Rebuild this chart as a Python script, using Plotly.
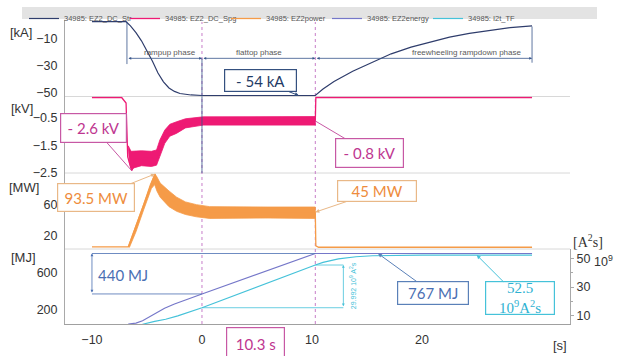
import plotly.graph_objects as go

# ---------------- data ----------------
T_START, T_END = -10.0, 30.0
T_RAMP_START = -6.82          # start of current ramp-up [s]
T_FT_END = 10.3               # end of flattop [s]

# coil current EZ2_DC_Str [kA]
cur_t = [-10.0, -6.9, -6.5, -6.0, -5.5, -5.0, -4.5, -4.0, -3.5, -3.0, -2.5, -2.0, -1.0, 0.0,
         10.3, 11.0, 12.0, 13.7, 15.0, 17.2, 19.0, 20.8, 22.5, 24.3, 26.0, 28.0, 30.0]
cur_kA = [0, 0, -3, -8, -14, -21, -29, -37.5, -44, -48.5, -51, -52.5, -53.6, -54,
          -54, -49.3, -43.8, -36.2, -31.5, -23.5, -18.6, -14.6, -11.3, -8.5, -6.4, -4.4, -3.0]
I_FLATTOP = -54

# coil voltage EZ2_DC_Spg [kV]: mean trace and noise envelope
spg_t = [-10.0, -7.3, -6.9, -6.75, -6.39, -6.1, -5.0, -4.13, -3.8, -3.38, -2.92, -2.32, -1.5, 0.1,
         10.3, 10.35, 30.0]
spg_kV = [0.05, 0.05, -0.15, -2.1, -2.6, -2.2, -2.15, -2.12, -1.8, -1.37, -1.12, -1.04, -0.9, -0.8,
          -0.8, 0.05, 0.05]
spg_hi_t = [-6.7, -6.45, -5.5, -4.6, -4.13, -3.83, -3.38, -2.92, -2.32, -1.5, 0.1, 5.0, 10.3]
spg_hi = [-1.7, -1.9, -1.88, -1.9, -1.85, -1.49, -1.13, -0.92, -0.83, -0.72, -0.65, -0.64, -0.64]
spg_lo_t = [10.3, 5.0, 0.1, -1.5, -2.32, -2.92, -3.38, -3.83, -4.13, -4.6, -5.5, -6.2, -6.39, -6.6, -6.7]
spg_lo = [-0.95, -0.95, -0.95, -1.05, -1.25, -1.35, -1.61, -2.09, -2.4, -2.45, -2.42, -2.5, -2.6, -2.3, -1.7]
V_MIN, V_FLATTOP = -2.6, -0.8

# power EZ2power [MW]: mean trace and noise envelope
pwr_t = [-10.0, -6.7, -4.28, -3.8, -3.0, -2.3, -1.5, -0.5, 0.7, 10.3, 10.35, 10.6, 30.0]
pwr_MW = [0.8, 0.8, 93.5, 73, 62, 55, 50, 47, 45, 45, 2, 0.3, 0.3]
pwr_hi_t = [-6.7, -6.0, -5.3, -4.7, -4.4, -4.28, -4.1, -3.8, -3.0, -2.3, -1.5, -0.5, 0.7, 3.0, 6.0, 10.3]
pwr_hi = [1, 27, 55, 80, 91, 93.5, 90, 82, 72, 64, 58, 54.5, 52, 51.5, 51.5, 51.5]
pwr_lo_t = [10.3, 6.0, 3.0, 0.7, -0.5, -1.5, -2.3, -3.0, -3.8, -4.1, -4.3, -4.6, -5.3, -6.0, -6.6]
pwr_lo = [37, 37.5, 37.5, 37, 39, 42, 46, 52, 64, 72, 80, 75, 48, 20, 0]
P_PEAK, P_FLATTOP = 93.5, 45

# energy EZ2energy [MJ]
en_t = [-6.7, -6.0, -5.4, -4.8, -4.3, -3.4, -2.5, -1.1, 0.0, 10.3, 30.0]
en_MJ = [0, 10, 35, 75, 112, 172, 218, 280, 327, 767, 767]
E_FT_START, E_END = 327, 767

# I2t_TF [10^9 A^2 s]
i2t_t = [-6.0, -5.3, -4.3, -3.3, -2.2, -1.1, 0.0, 10.3, 11.0, 12.4, 14.0, 15.5, 17.5, 20.0, 30.0]
i2t_v = [2.0, 4.1, 5.9, 7.4, 9.8, 12.7, 15.5, 45.492, 47.3, 49.8, 51.3, 52.0, 52.35, 52.5, 52.5]
I2T_FT_START, I2T_FT_END, I2T_END = 15.5, 45.492, 52.5

legend_names = ["34985: EZ2_DC_Str", "34985: EZ2_DC_Spg", "34985: EZ2power",
                "34985: EZ2energy", "34985: I2t_TF"]

# ---------------- styling ----------------
C_CUR = "#2f3d6c"
C_SPG = "#ee1a74"
C_SPG_TXT = "#be3690"
C_PWR = "#f59b48"
C_PWR_BOX = "#e9b887"
C_EN = "#7577c9"
C_EN_TXT = "#4a6fb3"
C_I2T = "#45c2d9"
C_I2T_TXT = "#2fb2d2"
C_AX = "#a9a9a9"
C_SEP = "#d8d8d8"
C_DOT = "#c77ec9"
C_PHASE = "#36548a"

SANS = "Liberation Sans, Arial, sans-serif"
BOX = "Lato, Carlito, sans-serif"
SERIF = "Liberation Serif, serif"

W, H = 617, 356
ML, MR, MT, MB = 65, 47, 20, 32
PW, PH = W - ML - MR, H - MT - MB


def px_x(px):
    return (px - ML) / PW


def px_y(py):
    return (H - MB - py) / PH


# panel boundaries (pixels from top)
B1, B2, B3 = 96.5, 173, 249
dom1 = [px_y(B1), 1.0]
dom2 = [px_y(B2), px_y(B1)]
dom3 = [px_y(B3), px_y(B2)]
dom4 = [0.0, px_y(B3)]

fig = go.Figure()

# current
fig.add_trace(go.Scatter(x=cur_t, y=cur_kA, mode="lines", yaxis="y", name=legend_names[0],
                         line=dict(color=C_CUR, width=1.2)))
# voltage
fig.add_trace(go.Scatter(x=spg_hi_t + spg_lo_t, y=spg_hi + spg_lo, mode="lines", yaxis="y2",
                         fill="toself", fillcolor=C_SPG, line=dict(color=C_SPG, width=0.8),
                         showlegend=False, hoverinfo="skip"))
fig.add_trace(go.Scatter(x=spg_t, y=spg_kV, mode="lines", yaxis="y2", name=legend_names[1],
                         line=dict(color=C_SPG, width=1.3)))
# power
fig.add_trace(go.Scatter(x=pwr_hi_t + pwr_lo_t, y=pwr_hi + pwr_lo, mode="lines", yaxis="y3",
                         fill="toself", fillcolor=C_PWR, line=dict(color=C_PWR, width=0.8),
                         showlegend=False, hoverinfo="skip"))
fig.add_trace(go.Scatter(x=pwr_t, y=pwr_MW, mode="lines", yaxis="y3", name=legend_names[2],
                         line=dict(color=C_PWR, width=1.3)))
# energy and I2t
fig.add_trace(go.Scatter(x=en_t, y=en_MJ, mode="lines", yaxis="y4", name=legend_names[3],
                         line=dict(color=C_EN, width=1.2)))
fig.add_trace(go.Scatter(x=i2t_t, y=i2t_v, mode="lines", yaxis="y5", name=legend_names[4],
                         line=dict(color=C_I2T, width=1.2)))

tick_font = dict(family=SANS, size=12.5, color="#333333")
common_y = dict(showline=True, linecolor=C_AX, linewidth=1, showgrid=False, zeroline=False,
                ticks="", tickfont=tick_font, anchor="x", fixedrange=True, ticklabelstandoff=4)

fig.update_layout(
    width=W, height=H,
    margin=dict(l=ML, r=MR, t=MT, b=MB, autoexpand=False),
    paper_bgcolor="white", plot_bgcolor="white",
    xaxis=dict(domain=[0, 1], anchor="y4", range=[-12.45, 33.45], tickvals=[-10, 0, 10, 20],
               showline=True, linecolor="#a0a0a0", showgrid=False, zeroline=False, ticks="",
               tickfont=tick_font, ticklabelstandoff=4),
    yaxis=dict(domain=dom1, range=[-54.72, 1.24], tickvals=[-10, -30, -50],
               ticklabelshift=3, **common_y),
    yaxis2=dict(domain=dom2, range=[-2.685, 0.087], tickvals=[-0.5, -1.5, -2.5],
                ticklabelshift=5, **common_y),
    yaxis3=dict(domain=dom3, range=[-1.91, 94.78], tickvals=[20, 60],
                ticklabelshift=4, **common_y),
    yaxis4=dict(domain=dom4, range=[0, 816], tickvals=[200, 600],
                ticklabelshift=4, **common_y),
    yaxis5=dict(overlaying="y4", side="right", anchor="x", range=[4.07, 56.74],
                tickvals=[10, 30, 50], showline=True, linecolor=C_AX, showgrid=False,
                zeroline=False, ticks="outside", ticklen=3, tickcolor=C_AX,
                minor=dict(ticks="outside", ticklen=2, dtick=10, tickcolor=C_AX),
                tickfont=tick_font),
    showlegend=True,
    legend=dict(orientation="h", x=px_x(24), xanchor="left", y=px_y(4), yanchor="top",
                bgcolor="rgba(0,0,0,0)", font=dict(family=SANS, size=7.5, color="#555555"),
                entrywidth=56, itemwidth=30, tracegroupgap=0),
)

shapes = []
# legend strip
shapes.append(dict(type="rect", xref="paper", yref="paper", x0=px_x(22), x1=px_x(597),
                   y0=px_y(19), y1=px_y(7), fillcolor="#e3e3e3", line=dict(width=0), layer="below"))
# panel separators
for b in (B1, B2, B3):
    shapes.append(dict(type="line", xref="paper", yref="paper", x0=0, x1=1, y0=px_y(b), y1=px_y(b),
                       line=dict(color=C_SEP, width=1), layer="below"))
# flattop start / end markers
for t in (0.0, T_FT_END):
    shapes.append(dict(type="line", xref="x", yref="paper", x0=t, x1=t, y0=0, y1=px_y(22),
                       line=dict(color=C_DOT, width=1, dash="dot"), layer="below"))
# phase marker lines
PH_Y = -26.8
shapes.append(dict(type="line", xref="x", yref="y", x0=T_RAMP_START, x1=T_RAMP_START, y0=0, y1=-31,
                   line=dict(color=C_PHASE, width=0.8)))
shapes.append(dict(type="line", xref="x", yref="y", x0=T_END, x1=T_END, y0=-3.5, y1=-30,
                   line=dict(color=C_PHASE, width=0.8)))
shapes.append(dict(type="line", xref="x", yref="y", x0=0, x1=0, y0=PH_Y, y1=-54.72,
                   line=dict(color=C_PHASE, width=0.8)))
shapes.append(dict(type="line", xref="x", yref="y2 domain", x0=0, x1=0, y0=0, y1=1,
                   line=dict(color=C_PHASE, width=0.8)))
# 440 MJ bracket guides
shapes.append(dict(type="line", xref="x", yref="y4", x0=T_START, x1=T_FT_END, y0=E_END, y1=E_END,
                   line=dict(color=C_EN_TXT, width=0.8)))
shapes.append(dict(type="line", xref="x", yref="y4", x0=T_START, x1=0, y0=E_FT_START, y1=E_FT_START,
                   line=dict(color=C_EN_TXT, width=0.8)))
# I2t bracket guides
T_BR = 12.85
shapes.append(dict(type="line", xref="x", yref="y5", x0=T_FT_END, x1=T_BR, y0=I2T_FT_END, y1=I2T_FT_END,
                   line=dict(color=C_I2T, width=0.8)))
shapes.append(dict(type="line", xref="x", yref="y5", x0=0, x1=T_BR, y0=I2T_FT_START, y1=I2T_FT_START,
                   line=dict(color=C_I2T, width=0.8)))

ann = []


def double_arrow(x0, x1, y0, y1, yref, color):
    ann.append(dict(x=x1, y=y1, ax=x0, ay=y0, xref="x", yref=yref, axref="x", ayref=yref,
                    text="", showarrow=True, arrowside="end+start", arrowhead=2, arrowsize=0.7,
                    arrowwidth=0.8, arrowcolor=color, standoff=0, startstandoff=0))


double_arrow(T_RAMP_START, 0, PH_Y, PH_Y, "y", C_PHASE)
double_arrow(0, T_FT_END, PH_Y, PH_Y, "y", C_PHASE)
double_arrow(T_FT_END, T_END, PH_Y, PH_Y, "y", C_PHASE)
double_arrow(T_START, T_START, E_FT_START, E_END, "y4", C_EN_TXT)
double_arrow(T_BR, T_BR, I2T_FT_START, I2T_FT_END, "y5", C_I2T)

phase_font = dict(family=SANS, size=8, color="#5a5a5a")
for txt, t in (("rampup phase", -2.9), ("flattop phase", 5.15), ("freewheeling rampdown phase", 24.1)):
    ann.append(dict(x=t, y=-22.3, xref="x", yref="y", text=txt, showarrow=False, font=phase_font,
                    xanchor="center", yanchor="middle"))


def box(text, x, y, xref, yref, color, border, w, h, tip=None, head=2, family=BOX, size=15):
    d = dict(text=text, xref=xref, yref=yref, font=dict(family=family, size=size, color=color),
             bordercolor=border, borderwidth=1.2, borderpad=0, bgcolor="white",
             width=w, height=h, align="center", valign="middle",
             xanchor="center", yanchor="middle")
    if tip is None:
        d.update(x=x, y=y, showarrow=False)
    else:
        d.update(x=tip[0], y=tip[1], ax=x, ay=y, showarrow=True, arrowhead=head, arrowsize=0.8,
                 arrowwidth=1, arrowcolor=border, standoff=0)
    ann.append(d)


# text boxes: position given as pixel offset from the annotated point
box("- 54 kA", -38.5, -15, "x", "y", "#1f3b66", "#34507f", 71, 21, tip=(8.8, I_FLATTOP))
box("- 2.6 kV", -38, -43, "x", "y2", C_SPG_TXT, "#c758a4", 65, 28, tip=(-6.39, V_MIN), head=0)
box("- 0.8 kV", 54, 32, "x", "y2", C_SPG_TXT, "#c758a4", 67, 28, tip=(T_FT_END, V_FLATTOP), head=0)
box("93.5 MW", -59, 23.5, "x", "y3", "#ee8c3c", C_PWR_BOX, 76, 27, tip=(-4.28, P_PEAK))
box("45 MW", 62, -21, "x", "y3", "#ee8c3c", C_PWR_BOX, 78, 20, tip=(T_FT_END, P_FLATTOP))
box("767 MJ", 54.5, 39.5, "x", "y4", C_EN_TXT, "#5a80b8", 70, 22, tip=(16.0, E_END))
box("52.5<br>10<sup>9</sup>A<sup>2</sup>s", 43, 43, "x", "y5", C_I2T_TXT, C_I2T, 68, 32,
    tip=(24.97, I2T_END), family=SERIF, size=15)
box("10.3 s", 4.85, px_y(344), "x", "paper", C_SPG_TXT, "#c758a4", 57, 32)

ann.append(dict(x=-7.15, y=528, xref="x", yref="y4",
                text=f"{E_END - E_FT_START} MJ", showarrow=False,
                font=dict(family=BOX, size=15, color=C_EN_TXT)))
ann.append(dict(x=13.75, y=30.8, xref="x", yref="y5",
                text=f"{I2T_FT_END - I2T_FT_START:.3f} 10<sup>9</sup> A<sup>2</sup>s",
                textangle=-90, showarrow=False, font=dict(family=SANS, size=7, color=C_I2T)))

# unit labels
unit_font = dict(family=SANS, size=13, color="#333333")
for txt, cx, cy in (("[kA]", 21, 32), ("[kV]", 22, 108), ("[MW]", 23.5, 188), ("[MJ]", 23, 257),
                    ("[s]", 560, 345)):
    ann.append(dict(x=px_x(cx), y=px_y(cy), xref="paper", yref="paper", text=txt,
                    showarrow=False, font=unit_font, xanchor="center", yanchor="middle"))
ann.append(dict(x=px_x(588), y=px_y(240.5), xref="paper", yref="paper",
                text="[A<sup>2</sup>s]", showarrow=False, xanchor="center", yanchor="middle",
                font=dict(family=SERIF, size=14, color="#333333")))
ann.append(dict(x=px_x(592), y=px_y(261), xref="paper", yref="paper",
                text="10<sup>9</sup>", showarrow=False, xanchor="left", yanchor="middle",
                font=tick_font))

fig.update_layout(shapes=shapes, annotations=ann)
fig.write_html("out.html")
